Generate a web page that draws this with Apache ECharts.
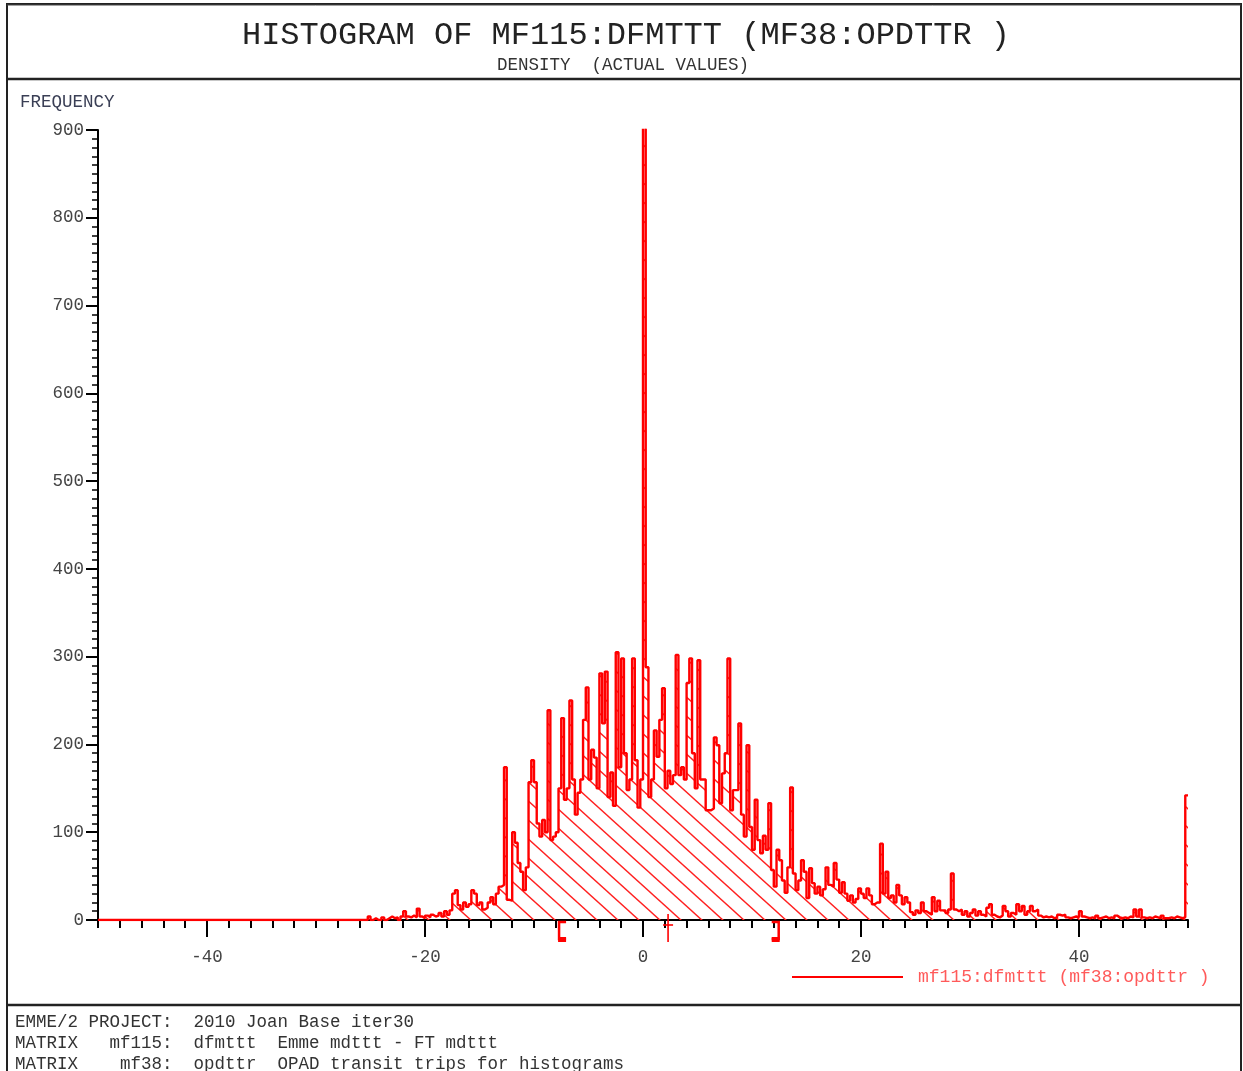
<!DOCTYPE html>
<html>
<head>
<meta charset="utf-8">
<script src="https://cdn.jsdelivr.net/npm/echarts@6/dist/echarts.min.js"></script>
<style>
html,body{margin:0;padding:0;background:#fff;}
#chart{width:1243px;height:1071px;}
</style>
</head>
<body>
<div id="chart"></div>
<script>
// ---- data ----
const TITLE = 'HISTOGRAM OF MF115:DFMTTT (MF38:OPDTTR )';
const SUBTITLE = 'DENSITY  (ACTUAL VALUES)';
const Y_NAME = 'FREQUENCY';
const SERIES_NAME = 'mf115:dfmttt (mf38:opdttr )';
const FOOTER_LINES = [
  'EMME/2 PROJECT:  2010 Joan Base iter30',
  'MATRIX   mf115:  dfmttt  Emme mdttt - FT mdttt',
  'MATRIX    mf38:  opdttr  OPAD transit trips for histograms'
];
const X_MIN = -50, X_MAX = 50;
const X_MAJOR_TICKS = [-40, -20, 0, 20, 40];
const Y_MIN = 0, Y_MAX = 900;

const BIN_WIDTH = 0.25;
const FIRST_BIN = -27;           // first stored bin start
// bins -27 .. -14.25
const countsLeft = [
  0,0,0,0,   0,0,0,4,   0,2,0,0,   3,0,2,4,
  2,3,0,4,   10,4,3,5,  3,13,4,2,  5,3,6,4,
  5,8,4,10,  6,11,30,34, 17,12,20,15, 18,34,30,17,
  20,12,14,20, 26,18,30,38
];
// bins -13 .. 14.75
const countsCore = [
  40,174,23,22,   100,88,65,55,   34,60,157,182,  157,110,95,114,
  100,239,91,95,  100,150,230,137, 150,250,160,120, 145,160,228,265,
  160,194,185,150, 281,224,283,140, 168,130,305,174, 298,190,148,160,
  298,182,128,160, 1000,288,140,160, 216,186,228,264, 150,170,155,165,
  302,165,174,160, 270,298,190,150, 296,160,160,125, 125,127,208,199,
  133,167,190,298, 125,148,148,224, 120,95,199,106,  80,137,91,76,
  96,80,133,57,   38,80,68,45,   31,60,151,53,   34,45,68,55
];
// bins 15 .. 49.75
const countsRight = [
  25,59,42,30,  38,28,35,60,  40,38,65,46,  31,43,30,22,
  28,20,24,36,  30,25,36,28,  18,20,20,87,  30,55,25,28,
  20,40,28,18,  26,20,9,6,    11,8,20,10,   8,6,26,10,
  22,11,11,8,   12,53,12,10,  12,6,10,4,    8,12,5,10,
  6,4,14,18,    6,4,3,5,      16,10,4,8,    6,18,10,16,
  6,10,16,10,   12,5,3,4,     3,4,2,3,      6,5,6,3,
  2,3,4,3,      10,4,3,2,     3,2,5,2,      3,4,2,3,
  2,5,3,2,      3,2,4,3,      12,4,12,3,    2,3,2,4,
  3,2,5,2,      2,3,2,4,      3,2,3,142
];
// summary marks drawn under the axis: lower bracket, centre cross, upper bracket
const markValues = [-7.7, 2.3, 12.45];
const markKinds = [0, 1, 2];

// ---- build series data ----
const counts = countsLeft.concat(countsCore, countsRight);
const histData = [[X_MIN, 0]];
counts.forEach((c, i) => histData.push([FIRST_BIN + i * BIN_WIDTH, c]));
histData.push([X_MAX, counts[counts.length - 1]]);
const markData = markValues.map((v, i) => [v, markKinds[i]]);

// hatch pattern
function makeHatch() {
  const w = 21, h = 19;
  const c = document.createElement('canvas');
  c.width = w; c.height = h;
  const g = c.getContext('2d');
  g.strokeStyle = '#ff2020';
  g.lineWidth = 1.4;
  [-w, 0, w].forEach((dx) => {
    g.beginPath();
    g.moveTo(dx - w, -h);
    g.lineTo(dx + 2 * w, 2 * h);
    g.stroke();
  });
  return c;
}

const MONO = '"Liberation Mono", "DejaVu Sans Mono", monospace';
const RED = '#ff0000';

function renderMark(params, api) {
  const p = api.coord([api.value(0), 0]);
  const kind = api.value(1);
  const x = p[0], y = p[1];
  const ls = {stroke: RED, lineWidth: 2.5, fill: null};
  if (kind === 1) {
    return {type: 'group', children: [
      {type: 'line', shape: {x1: x, y1: y - 6, x2: x, y2: y + 22}, style: {stroke: RED, lineWidth: 1.6}},
      {type: 'line', shape: {x1: x - 5, y1: y + 5, x2: x + 5, y2: y + 5}, style: {stroke: RED, lineWidth: 1.6}}
    ]};
  }
  const d = kind === 0 ? 1 : -1;
  return {type: 'group', children: [
    {type: 'polyline', shape: {points: [[x + 7 * d, y + 2], [x, y + 2], [x, y + 19], [x + 7 * d, y + 19]]}, style: ls},
    {type: 'rect', shape: {x: Math.min(x, x + 8 * d) - (d > 0 ? 1 : -1), y: y + 17, width: 8, height: 5}, style: {fill: RED}}
  ]};
}

const chart = echarts.init(document.getElementById('chart'), null, {renderer: 'canvas'});
const option = {
  animation: false,
  backgroundColor: '#ffffff',
  grid: {left: 98, right: 55, top: 130, bottom: 151},
  xAxis: [
    {
      type: 'value', min: X_MIN, max: X_MAX, interval: 2,
      axisLine: {show: true, onZero: false, lineStyle: {color: '#000', width: 2}},
      axisTick: {show: true, length: 8, lineStyle: {color: '#000', width: 2}},
      axisLabel: {show: false},
      splitLine: {show: false}
    },
    {
      type: 'value', min: X_MIN, max: X_MAX, interval: 10, position: 'bottom',
      axisLine: {show: false, onZero: false},
      axisTick: {show: true, customValues: X_MAJOR_TICKS, length: 17, lineStyle: {color: '#000', width: 2}},
      axisLabel: {show: true, customValues: X_MAJOR_TICKS, margin: 28, fontFamily: MONO, fontSize: 17.5, color: '#444'},
      splitLine: {show: false}
    }
  ],
  yAxis: {
    type: 'value', min: Y_MIN, max: Y_MAX, interval: 100,
    axisLine: {show: true, onZero: false, lineStyle: {color: '#000', width: 2}},
    axisTick: {show: true, length: 12, lineStyle: {color: '#000', width: 2}},
    minorTick: {show: true, splitNumber: 10, length: 6, lineStyle: {color: '#000', width: 1.5}},
    axisLabel: {margin: 14, fontFamily: MONO, fontSize: 17.5, color: '#444'},
    splitLine: {show: false}
  },
  legend: {
    data: [{name: SERIES_NAME, icon: 'rect'}],
    left: 792, top: 968, padding: 0,
    itemWidth: 111, itemHeight: 2,
    textStyle: {fontFamily: MONO, fontSize: 18, color: '#ff5a5a', padding: [0, 0, 0, 10]}
  },
  series: [
    {
      name: SERIES_NAME,
      type: 'line',
      xAxisIndex: 0,
      step: 'end',
      symbol: 'none',
      data: histData,
      clip: true,
      z: 3,
      itemStyle: {color: RED},
      lineStyle: {color: RED, width: 2.4},
      areaStyle: {color: {image: makeHatch(), repeat: 'repeat'}, opacity: 1}
    },
    {
      name: 'marks',
      type: 'custom',
      xAxisIndex: 0,
      data: markData,
      renderItem: renderMark,
      clip: false,
      z: 4
    }
  ],
  graphic: [
    {type: 'rect', shape: {x: 7, y: 4, width: 1234, height: 1080}, style: {fill: null, stroke: '#222', lineWidth: 2}, silent: true},
    {type: 'line', shape: {x1: 7, y1: 5, x2: 1241, y2: 5}, style: {stroke: '#444', lineWidth: 1}, silent: true},
    {type: 'line', shape: {x1: 7, y1: 79, x2: 1241, y2: 79}, style: {stroke: '#222', lineWidth: 2.5}, silent: true},
    {type: 'line', shape: {x1: 7, y1: 1005, x2: 1241, y2: 1005}, style: {stroke: '#222', lineWidth: 2.5}, silent: true},
    {type: 'text', x: 626, y: 36, style: {text: TITLE, font: '32px ' + MONO, fill: '#222', align: 'center', verticalAlign: 'middle'}, silent: true},
    {type: 'text', x: 623, y: 65, style: {text: SUBTITLE, font: '17.5px ' + MONO, fill: '#333', align: 'center', verticalAlign: 'middle'}, silent: true},
    {type: 'text', x: 20, y: 102, style: {text: Y_NAME, font: '17.5px ' + MONO, fill: '#3a3f55', align: 'left', verticalAlign: 'middle'}, silent: true},
    {type: 'text', x: 15, y: 1022, style: {text: FOOTER_LINES[0], font: '17.5px ' + MONO, fill: '#333', align: 'left', verticalAlign: 'middle'}, silent: true},
    {type: 'text', x: 15, y: 1043, style: {text: FOOTER_LINES[1], font: '17.5px ' + MONO, fill: '#333', align: 'left', verticalAlign: 'middle'}, silent: true},
    {type: 'text', x: 15, y: 1064, style: {text: FOOTER_LINES[2], font: '17.5px ' + MONO, fill: '#333', align: 'left', verticalAlign: 'middle'}, silent: true}
  ]
};
chart.setOption(option);
</script>
</body>
</html>
